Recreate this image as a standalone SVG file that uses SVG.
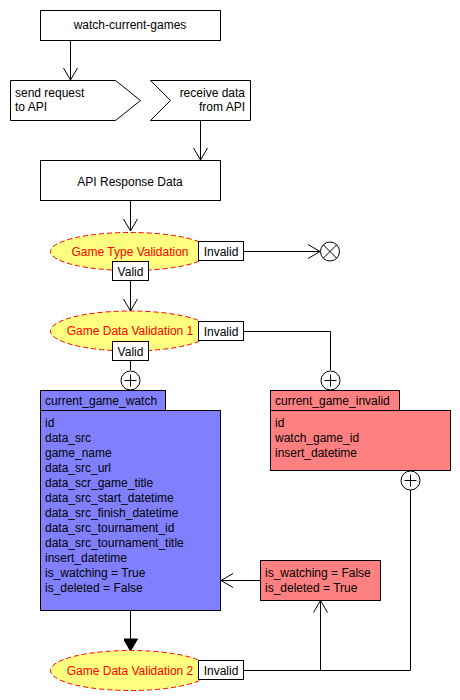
<svg xmlns="http://www.w3.org/2000/svg" width="460" height="700" viewBox="0 0 460 700">
<defs>
<style>
text{font-family:"Liberation Sans",Arial,sans-serif;font-size:12px;fill:#000}
.box{fill:#fff;stroke:#000;stroke-width:1}
.lbl{fill:#fff;stroke:#000;stroke-width:1}
.ell{fill:#ffff80;stroke:#ff0000;stroke-width:1;stroke-dasharray:5,3}
.et{fill:#ff0000;text-anchor:middle}
.c{text-anchor:middle}
.blue{fill:#8080ff;stroke:#000;stroke-width:1}
.red{fill:#ff8080;stroke:#000;stroke-width:1}
.ln{fill:none;stroke:#000;stroke-width:1}
</style>
<marker id="open" markerWidth="14" markerHeight="16" refX="13" refY="8" orient="auto" markerUnits="userSpaceOnUse">
<path d="M1,1 L13,8 L1,15" fill="none" stroke="#000" stroke-width="1"/>
</marker>
<marker id="filled" markerWidth="16" markerHeight="14" refX="13" refY="7" orient="auto" markerUnits="userSpaceOnUse">
<path d="M1,0 L13,7 L1,14 Z" fill="#000" stroke="#000"/>
</marker>
</defs>

<g id="connectors">
<path class="ln" d="M70.5,40 V80" marker-end="url(#open)"/>
<path class="ln" d="M200.5,120 V160" marker-end="url(#open)"/>
<path class="ln" d="M130.5,200 V231" marker-end="url(#open)"/>
<path class="ln" d="M243,251.5 H320" marker-end="url(#open)"/>
<path class="ln" d="M130.5,280 V311" marker-end="url(#open)"/>
<path class="ln" d="M243,331.5 H330.5 V370"/>
<path class="ln" d="M130.5,360 V370"/>
<path class="ln" d="M410.5,490 V670.5 H243"/>
<path class="ln" d="M320.5,670.5 V600.5" marker-end="url(#open)"/>
<path class="ln" d="M260,580.5 H221" marker-end="url(#open)"/>
<path class="ln" d="M130.5,610 V651" marker-end="url(#filled)"/>
</g>

<g id="watch-current-games">
<rect class="box" x="40.5" y="10.5" width="180" height="30"/>
<text class="c" x="130" y="29">watch-current-games</text>
</g>

<g id="send-request">
<polygon class="box" points="10.5,80.5 115.5,80.5 140.5,100.5 115.5,120.5 10.5,120.5"/>
<text x="15" y="97">send request</text>
<text x="15" y="111">to API</text>
</g>

<g id="receive-data">
<polygon class="box" points="150.5,80.5 250.5,80.5 250.5,120.5 150.5,120.5 170.5,100.5"/>
<text x="245" y="97" text-anchor="end">receive data</text>
<text x="245" y="111" text-anchor="end">from API</text>
</g>

<g id="api-response-data">
<rect class="box" x="40.5" y="160.5" width="180" height="40"/>
<text class="c" x="130" y="186">API Response Data</text>
</g>

<g id="game-type-validation">
<ellipse class="ell" cx="130.5" cy="251.5" rx="80" ry="19"/>
<text class="et" x="130" y="256">Game Type Validation</text>
<rect class="lbl" x="198.5" y="241.5" width="45" height="19"/>
<text class="c" x="221" y="256">Invalid</text>
<rect class="lbl" x="112.5" y="261.5" width="36" height="19"/>
<text class="c" x="130.5" y="276">Valid</text>
</g>

<g id="terminate">
<circle class="box" cx="330" cy="251.5" r="9.5"/>
<path class="ln" d="M323.3,244.8 L336.7,258.2 M336.7,244.8 L323.3,258.2"/>
</g>

<g id="game-data-validation-1">
<ellipse class="ell" cx="130.5" cy="331" rx="80" ry="20"/>
<text class="et" x="130" y="335">Game Data Validation 1</text>
<rect class="lbl" x="198.5" y="321.5" width="45" height="19"/>
<text class="c" x="221" y="336">Invalid</text>
<rect class="lbl" x="112.5" y="341.5" width="36" height="19"/>
<text class="c" x="130.5" y="356">Valid</text>
</g>

<g id="plus-watch">
<circle class="box" cx="130.5" cy="380.5" r="9.5"/>
<path class="ln" d="M124.5,380.5 H136.5 M130.5,374.5 V386.5"/>
</g>

<g id="plus-invalid">
<circle class="box" cx="330.5" cy="380.5" r="9.5"/>
<path class="ln" d="M324.5,380.5 H336.5 M330.5,374.5 V386.5"/>
</g>

<g id="current_game_watch">
<rect class="blue" x="40.5" y="390.5" width="125" height="20"/>
<text x="45" y="405">current_game_watch</text>
<rect class="blue" x="40.5" y="410.5" width="180" height="200"/>
<text x="45" y="427">id</text>
<text x="45" y="442">data_src</text>
<text x="45" y="457">game_name</text>
<text x="45" y="472">data_src_url</text>
<text x="45" y="487">data_scr_game_title</text>
<text x="45" y="502">data_src_start_datetime</text>
<text x="45" y="517">data_src_finish_datetime</text>
<text x="45" y="532">data_src_tournament_id</text>
<text x="45" y="547">data_src_tournament_title</text>
<text x="45" y="562">insert_datetime</text>
<text x="45" y="577">is_watching = True</text>
<text x="45" y="592">is_deleted = False</text>
</g>

<g id="current_game_invalid">
<rect class="red" x="270.5" y="390.5" width="129" height="20"/>
<text x="275" y="405">current_game_invalid</text>
<rect class="red" x="270.5" y="410.5" width="180" height="60"/>
<text x="275" y="427">id</text>
<text x="275" y="442">watch_game_id</text>
<text x="275" y="457">insert_datetime</text>
</g>

<g id="plus-invalid-bottom">
<circle class="box" cx="410.5" cy="480.5" r="9.5"/>
<path class="ln" d="M404.5,480.5 H416.5 M410.5,474.5 V486.5"/>
</g>

<g id="update-flags">
<rect class="red" x="260.5" y="560.5" width="120" height="40"/>
<text x="265" y="577">is_watching = False</text>
<text x="265" y="592">is_deleted = True</text>
</g>

<g id="game-data-validation-2">
<ellipse class="ell" cx="130.5" cy="670.5" rx="80" ry="20"/>
<text class="et" x="130" y="675">Game Data Validation 2</text>
<rect class="lbl" x="198.5" y="660.5" width="45" height="19"/>
<text class="c" x="221" y="675">Invalid</text>
</g>
</svg>
